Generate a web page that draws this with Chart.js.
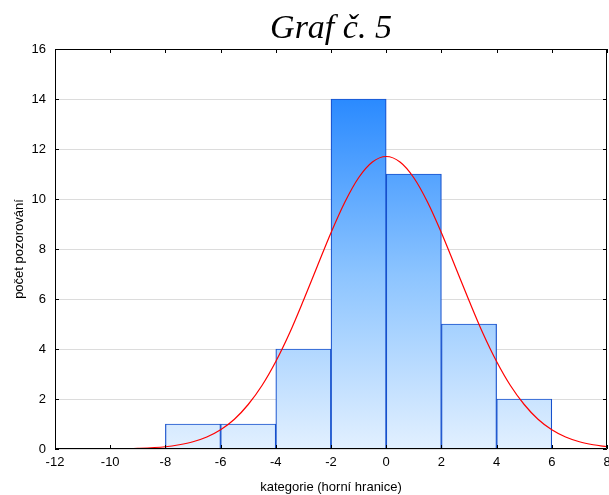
<!DOCTYPE html>
<html>
<head>
<meta charset="utf-8">
<script src="https://cdn.jsdelivr.net/npm/chart.js@4/dist/chart.umd.min.js"></script>
<style>
  html, body { margin: 0; padding: 0; background: #fff; }
  #wrap { width: 609px; height: 495px; }
</style>
</head>
<body>
<div id="wrap"><canvas id="graf"></canvas></div>
<script>
// histogram: bin centres (bin width 2) and counts
const binCenters = [-7, -5, -3, -1, 1, 3, 5];
const binCounts = [1, 1, 4, 14, 11, 5, 2];

// fitted normal curve
const curveX = [-12, -11, -10, -9, -8, -7.5, -7, -6.5, -6, -5.5, -5, -4.5, -4, -3.5, -3, -2.5, -2, -1.5, -1, -0.5,
  0, 0.5, 1, 1.5, 2, 2.5, 3, 3.5, 4, 4.5, 5, 5.5, 6, 6.5, 7, 7.5, 8];
const curveY = [0, 0.001, 0.006, 0.026, 0.09, 0.17, 0.29, 0.48, 0.77, 1.19, 1.78, 2.54, 3.5, 4.64, 5.94, 7.3, 8.65, 9.87, 10.85, 11.48,
  11.7, 11.48, 10.85, 9.87, 8.65, 7.3, 5.94, 4.64, 3.5, 2.54, 1.78, 1.19, 0.77, 0.48, 0.29, 0.17, 0.09];

const titleText = "Graf č. 5";
const xTitle = "kategorie (horní hranice)";
const yTitle = "počet pozorování";

const tickFont = { family: "Liberation Sans, Arial, sans-serif", size: 13 };

// gradient fill for bars
function barGradient(context) {
  const chart = context.chart;
  const { ctx, chartArea, scales } = chart;
  if (!chartArea) return "#6fb4ff";
  const yTop = scales.y.getPixelForValue(14);
  const yBot = scales.y.getPixelForValue(0);
  const g = ctx.createLinearGradient(0, yTop, 0, yBot);
  g.addColorStop(0, "#2a8aff");
  g.addColorStop(0.5, "#8cc4ff");
  g.addColorStop(1, "#e2f0ff");
  return g;
}

// frame + inward ticks + title
const framePlugin = {
  id: "frame",
  afterDraw(chart) {
    const { ctx, chartArea: a, scales } = chart;
    ctx.save();
    ctx.strokeStyle = "#000";
    ctx.lineWidth = 1;
    ctx.beginPath();
    ctx.rect(a.left + 0.5, a.top + 0.5, a.right - a.left - 1, a.bottom - a.top - 1);
    ctx.stroke();
    const len = 4;
    ctx.beginPath();
    scales.x.ticks.forEach((t) => {
      const px = Math.round(scales.x.getPixelForValue(t.value)) + 0.5;
      ctx.moveTo(px, a.bottom);
      ctx.lineTo(px, a.bottom - len);
      ctx.moveTo(px, a.top);
      ctx.lineTo(px, a.top + len);
    });
    scales.y.ticks.forEach((t) => {
      const py = Math.round(scales.y.getPixelForValue(t.value)) + 0.5;
      ctx.moveTo(a.left, py);
      ctx.lineTo(a.left + len, py);
      ctx.moveTo(a.right, py);
      ctx.lineTo(a.right - len, py);
    });
    ctx.stroke();

    ctx.fillStyle = "#000";
    ctx.font = "italic 34px 'Liberation Serif', 'Times New Roman', serif";
    ctx.textAlign = "center";
    ctx.textBaseline = "alphabetic";
    ctx.fillText(titleText, (a.left + a.right) / 2, 38);
    ctx.restore();
  },
};

const chart = new Chart(document.getElementById("graf"), {
  data: {
    datasets: [
      {
        type: "line",
        data: curveX.map((x, i) => ({ x, y: curveY[i] })),
        borderColor: "#ff0000",
        borderWidth: 1.2,
        pointRadius: 0,
        fill: false,
        cubicInterpolationMode: "monotone",
        order: 0,
      },
      {
        type: "bar",
        data: binCenters.map((x, i) => ({ x, y: binCounts[i] })),
        backgroundColor: barGradient,
        borderColor: "#1650cc",
        borderWidth: 1.2,
        barPercentage: 1,
        categoryPercentage: 1,
        order: 1,
      },
    ],
  },
  options: {
    responsive: true,
    maintainAspectRatio: false,
    animation: false,
    layout: { padding: { top: 49, right: 2, left: 0, bottom: 0 } },
    plugins: {
      legend: { display: false },
      tooltip: { enabled: false },
      title: { display: false },
    },
    scales: {
      x: {
        type: "linear",
        min: -12,
        max: 8,
        offset: false,
        ticks: { stepSize: 2, color: "#000", font: tickFont, padding: 6, maxRotation: 0 },
        grid: { display: false, drawTicks: false, offset: false },
        border: { display: false },
        title: {
          display: true,
          text: xTitle,
          color: "#000",
          font: tickFont,
          padding: { top: 0, bottom: 0 },
        },
        afterFit(scale) {
          scale.height = 46;
          scale.paddingLeft = 0;
          scale.paddingRight = 0;
        },
      },
      y: {
        min: 0,
        max: 16,
        ticks: { stepSize: 2, color: "#000", font: tickFont, padding: 9 },
        grid: { color: "#dcdcdc", drawTicks: false },
        border: { display: false },
        title: {
          display: true,
          text: yTitle,
          color: "#000",
          font: tickFont,
          padding: { top: 12, bottom: 0 },
        },
        afterFit(scale) {
          scale.width = 55;
          scale.paddingTop = 0;
          scale.paddingBottom = 0;
        },
      },
    },
  },
  plugins: [framePlugin],
});
</script>
</body>
</html>
